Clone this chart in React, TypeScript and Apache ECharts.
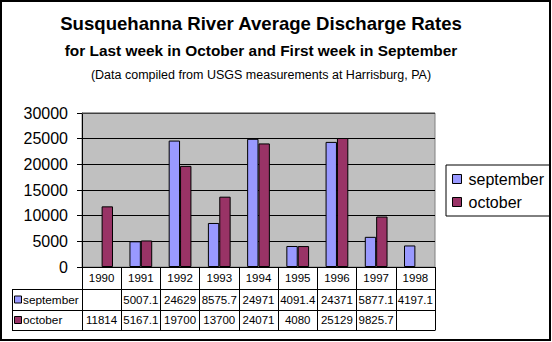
import React, { useEffect, useRef } from "react";
import * as echarts from "echarts";

const years = ["1990", "1991", "1992", "1993", "1994", "1995", "1996", "1997", "1998"];
const september: (number | null)[] = [null, 5007.1, 24629, 8575.7, 24971, 4091.4, 24371, 5877.1, 4197.1];
const october: (number | null)[] = [11814, 5167.1, 19700, 13700, 24071, 4080, 25129, 9825.7, null];
const seriesNames = ["september", "october"];
const seriesColors = ["#9999FF", "#993366"];
const yMin = 0;
const yMax = 30000;
const yInterval = 5000;

const titleText = "Susquehanna River Average Discharge Rates";
const subtitleText = "for Last week in October and First week in September";
const noteText = "(Data compiled from USGS measurements at Harrisburg, PA)";

const FONT = "'Liberation Sans', Arial, sans-serif";

export default function App() {
  const ref = useRef<HTMLDivElement>(null);
  useEffect(() => {
    if (!ref.current) return;
    const chart = echarts.init(ref.current, null, { renderer: "svg" });
    const gridLeft = 82;
    const gridRight = 435;
    const gridTop = 113;
    const gridBottom = 267;
    const option: any = {
      animation: false,
      backgroundColor: "#ffffff",
      textStyle: { fontFamily: FONT },
      grid: {
        left: gridLeft,
        top: gridTop,
        width: gridRight - gridLeft,
        height: gridBottom - gridTop,
        show: true,
        backgroundColor: "#C0C0C0",
        borderColor: "#808080",
        borderWidth: 1,
      },
      legend: {
        orient: "vertical",
        left: 446,
        top: 165,
        backgroundColor: "#ffffff",
        borderColor: "#000000",
        borderWidth: 1,
        borderRadius: 0,
        padding: [5, 6, 5, 6],
        itemWidth: 9,
        itemHeight: 9,
        itemGap: 5,
        icon: "rect",
        itemStyle: { borderColor: "#000", borderWidth: 1 },
        textStyle: { fontSize: 16, fontFamily: FONT, color: "#000", lineHeight: 18, padding: [0, 0, 0, 2] },
        data: seriesNames,
      },
      xAxis: {
        type: "category",
        data: years,
        boundaryGap: true,
        axisLine: { show: true, lineStyle: { color: "#000", width: 1 } },
        axisTick: { show: true, length: 63, lineStyle: { color: "#000", width: 1 } },
        axisLabel: { fontSize: 11.5, color: "#000", fontFamily: FONT, margin: 11, verticalAlign: "middle" },
        splitLine: { show: false },
      },
      yAxis: {
        type: "value",
        min: yMin,
        max: yMax,
        interval: yInterval,
        axisLine: { show: true, lineStyle: { color: "#000", width: 1 } },
        axisTick: { show: true, length: 5, lineStyle: { color: "#000" } },
        axisLabel: { fontSize: 16, color: "#000", fontFamily: FONT, margin: 14, formatter: (v: number) => String(v) },
        splitLine: { show: true, lineStyle: { color: "#000", width: 1 } },
      },
      series: [
        {
          name: seriesNames[0],
          type: "bar",
          data: september,
          barGap: "0%",
          barCategoryGap: "42%",
          itemStyle: { color: seriesColors[0], borderColor: "#000", borderWidth: 1 },
        },
        {
          name: seriesNames[1],
          type: "bar",
          data: october,
          barGap: "0%",
          barCategoryGap: "42%",
          itemStyle: { color: seriesColors[1], borderColor: "#000", borderWidth: 1 },
        },
      ],
    };
    chart.setOption(option);

    const topY = chart.convertToPixel({ yAxisIndex: 0 }, yMax) as number;
    const xs = years.map((y, i) => chart.convertToPixel({ xAxisIndex: 0 }, i) as number);
    const tableLeft = 12;
    const rowLines = [289, 310, 330];
    const rowCenters = [299.5, 320];
    const values = [september, october];

    const graphic: any[] = [];
    graphic.push({
      type: "line",
      z: 100,
      shape: { x1: gridLeft, y1: topY, x2: gridRight, y2: topY },
      style: { stroke: "#808080", lineWidth: 1 },
    });
    rowLines.forEach((y) => {
      graphic.push({
        type: "line",
        z: 100,
        shape: { x1: tableLeft, y1: y + 0.5, x2: gridRight + 0.5, y2: y + 0.5 },
        style: { stroke: "#000", lineWidth: 1 },
      });
    });
    graphic.push({
      type: "line",
      z: 100,
      shape: { x1: tableLeft + 0.5, y1: rowLines[0], x2: tableLeft + 0.5, y2: rowLines[2] + 1 },
      style: { stroke: "#000", lineWidth: 1 },
    });
    seriesNames.forEach((name, r) => {
      graphic.push({
        type: "rect",
        z: 100,
        shape: { x: 14.5, y: rowCenters[r] - 3.5, width: 7, height: 7 },
        style: { fill: seriesColors[r], stroke: "#000", lineWidth: 1 },
      });
      graphic.push({
        type: "text",
        z: 100,
        style: {
          text: name,
          x: 23,
          y: rowCenters[r],
          fontSize: 11.8,
          fontFamily: FONT,
          fill: "#000",
          textAlign: "left",
          textVerticalAlign: "middle",
        },
      });
      values[r].forEach((v, i) => {
        if (v === null || v === undefined) return;
        graphic.push({
          type: "text",
          z: 100,
          style: {
            text: String(v),
            x: xs[i],
            y: rowCenters[r],
            fontSize: 11.5,
            fontFamily: FONT,
            fill: "#000",
            textAlign: "center",
            textVerticalAlign: "middle",
          },
        });
      });
    });
    graphic.push({
      type: "text",
      z: 100,
      style: { text: titleText, x: 261, y: 23, fontSize: 18.6, fontWeight: "bold", fontFamily: FONT, fill: "#000", textAlign: "center", textVerticalAlign: "middle" },
    });
    graphic.push({
      type: "text",
      z: 100,
      style: { text: subtitleText, x: 261, y: 50, fontSize: 15.4, fontWeight: "bold", fontFamily: FONT, fill: "#000", textAlign: "center", textVerticalAlign: "middle" },
    });
    graphic.push({
      type: "text",
      z: 100,
      style: { text: noteText, x: 261, y: 75, fontSize: 12.5, fontFamily: FONT, fill: "#000", textAlign: "center", textVerticalAlign: "middle" },
    });
    graphic.push({
      type: "rect",
      z: 100,
      shape: { x: 1, y: 1, width: 549, height: 339 },
      style: { fill: "none", stroke: "#000", lineWidth: 2 },
    });
    chart.setOption({ graphic });

    return () => chart.dispose();
  }, []);
  return <div ref={ref} style={{ position: "absolute", left: 0, top: 0, width: 552, height: 342 }} />;
}
